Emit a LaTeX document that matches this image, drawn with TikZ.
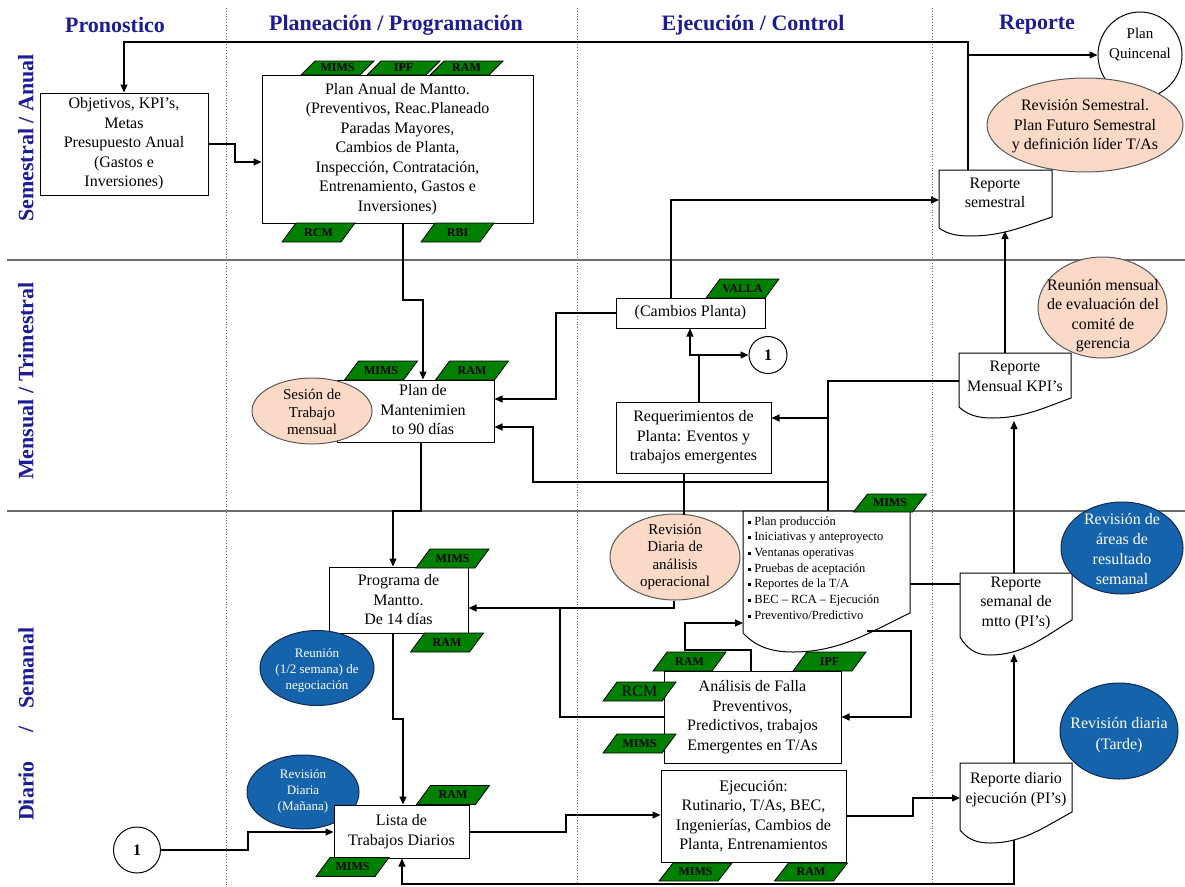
\documentclass[tikz,border=0pt]{standalone}
\usepackage{fontspec}
\setmainfont{Liberation Serif}
\usetikzlibrary{arrows.meta,calc,shapes.geometric}
\definecolor{navy}{RGB}{28,28,150}
\definecolor{tagg}{RGB}{0,128,0}
\definecolor{pinkf}{RGB}{250,217,198}
\definecolor{bluef}{RGB}{20,99,171}
\definecolor{blueb}{RGB}{20,40,80}
\definecolor{laneg}{RGB}{110,110,110}
\tikzset{
  hdr/.style={text=navy, font=\bfseries\fontsize{22}{26}\selectfont, inner sep=0},
  side/.style={hdr, rotate=90},
  box/.style={draw, fill=white, line width=1pt, inner sep=0, align=center, font=\fontsize{16}{19.5}\selectfont},
  txt/.style={inner sep=0, align=center, font=\fontsize{16}{19.5}\selectfont},
  wtxt/.style={txt, text=white},
  ell/.style={ellipse, draw, fill=white, line width=1pt, inner sep=0},
  pinkell/.style={ellipse, draw=black!65, fill=pinkf, line width=1pt, inner sep=0},
  blueell/.style={ellipse, draw=blueb, fill=bluef, line width=1pt, inner sep=0},
  tagshape/.style={fill=tagg, draw=black, line width=0.8pt},
  tagtext/.style={inner sep=0, font=\bfseries\fontsize{12}{12}\selectfont},
  docsty/.style={draw, fill=white, line width=1pt},
  conn/.style={line width=1.1pt},
  arr/.style={conn, -{Triangle[length=8pt,width=7pt]}},
  lane/.style={draw=laneg, line width=2pt},
  vdot/.style={draw=laneg, line width=0.8pt, dotted},
}
\newcommand{\gtag}[5]{%
  \filldraw[tagshape] (#2-36.5,#3+#4/2) -- (#2+22.5,#3+#4/2) -- (#2+36.5,#3-#4/2) -- (#2-22.5,#3-#4/2) -- cycle;
  \node[tagtext] (#1) at (#2,#3) {#5};}
\newcommand{\docshape}[8]{%
  \filldraw[docsty] (#2,#4) -- (#3,#4) -- (#3,#8)
    .. controls ({#3-0.35*(#3-#6)},{#8+0.5*(#7-#8)}) and ({#6+0.4*(#3-#6)},#7) .. (#6,#7)
    .. controls ({#6-0.45*(#6-#2)},#7) and ({#2+0.25*(#6-#2)},{#7-0.3*(#7-#5)}) .. (#2,#5) -- cycle;
  \node[inner sep=0, outer sep=0, minimum width={#3-#2}, minimum height={#8-#4}] (#1) at ({(#2+#3)/2},{(#4+#8)/2}) {};}
\begin{document}
\begin{tikzpicture}[x=1pt,y=-1pt]
\useasboundingbox (0,0) rectangle (1185,886);
\fill[white] (0,0) rectangle (1185,886);
% lanes
\draw[lane] (7,260) -- (1185,260);
\draw[lane] (7,511) -- (1185,511);
\foreach \x in {226,577,932} \draw[vdot] (\x,8) -- (\x,886);
% headers
\node[hdr] (h1) at (115,25) {Pronostico};
\node[hdr] (h2) at (396,25) {Planeación / Programación};
\node[hdr] (h3) at (753,25) {Ejecución / Control};
\node[hdr] (h4) at (1037,25) {Reporte};
\node[side] (s1) at (26,138) {Semestral / Anual};
\node[side] (s2) at (26,381) {Mensual / Trimestral};
\node[side] (s3a) at (26,668) {Semanal};
\node[side] (s3b) at (26,729) {/};
\node[side] (s3c) at (26,791) {Diario};

% Semestral / Anual
\node[box, minimum width=168, minimum height=102] (obj) at (124,144) {Objetivos, KPI’s,\\Metas\\Presupuesto Anual\\(Gastos e\\Inversiones)};
\node[box, minimum width=271, minimum height=148] (pa) at (397.5,149) {Plan Anual de Mantto.\\(Preventivos, Reac.Planeado\\Paradas Mayores,\\Cambios de Planta,\\Inspección, Contratación,\\Entrenamiento, Gastos e\\Inversiones)};
\gtag{tpa1}{337.5}{68}{14}{MIMS}
\gtag{tpa2}{403.5}{68}{14}{IPF}
\gtag{tpa3}{466.5}{68}{14}{RAM}
\gtag{tpa4}{318.5}{232.5}{19}{RCM}
\gtag{tpa5}{457.5}{232.5}{19}{RBI}
\node[ell, minimum width=84, minimum height=86] (pq) at (1140,55) {};
\node[txt, font=\fontsize{15}{20}\selectfont] (pqt) at (1140,45) {Plan\\Quincenal};
\node[pinkell, minimum width=196, minimum height=94] (rse) at (1085,125) {};
\node[txt] (rset) at (1085,126.5) {Revisión Semestral.\\Plan Futuro Semestral\\y definición líder T/As};
\docshape{rsem}{939}{1052}{170}{228}{970}{236}{217}
\node[txt] (rsemt) at (995,193) {Reporte\\semestral};

% Mensual / Trimestral
\node[box, minimum width=157, minimum height=62] (pm) at (415.5,411) {};
\gtag{tpm1}{381}{370.5}{19}{MIMS}
\gtag{tpm2}{472}{370.5}{19}{RAM}
\node[pinkell, minimum width=120, minimum height=66] (ses) at (312,411) {};
\node[txt, font=\fontsize{15}{17.5}\selectfont] (sest) at (312,412) {Sesión de\\Trabajo\\mensual};
\node[txt] (pmt) at (423,410) {Plan de\\Mantenimien\\to 90 días};
\node[box, minimum width=149, minimum height=30] (cp) at (690.5,313) {(Cambios Planta)};
\gtag{tcp}{742.5}{288.5}{19}{VALLA}
\node[box, minimum width=155, minimum height=71] (rq) at (693.5,437.5) {Requerimientos de\\Planta: Eventos y\\trabajos emergentes};
\node[ell, minimum width=38, minimum height=37] (c1) at (768,355) {};
\node[txt, font=\bfseries\fontsize{16}{16}\selectfont] (c1t) at (768,355) {1};
\node[pinkell, minimum width=129, minimum height=101] (rme) at (1102.5,307.5) {};
\node[txt] (rmet) at (1103,315.5) {Reunión mensual\\de evaluación del\\comité de\\gerencia};
\docshape{rmen}{959}{1071}{353}{407}{992}{418}{398}
\node[txt] (rment) at (1015,376.5) {Reporte\\Mensual KPI’s};

% Diario / Semanal
\node[box, minimum width=139, minimum height=66] (pg) at (398.5,600) {Programa de\\Mantto.\\De 14 días};
\gtag{tpg1}{452.5}{558.5}{19}{MIMS}
\gtag{tpg2}{447}{642.5}{19}{RAM}
\node[blueell, minimum width=114, minimum height=75] (rneg) at (317,668) {};
\node[wtxt, font=\fontsize{13}{16}\selectfont] (rnegt) at (317,670) {Reunión\\(1/2 semana) de\\negociación};
\node[blueell, minimum width=112, minimum height=74] (rdm) at (303,792) {};
\node[wtxt, font=\fontsize{13}{16}\selectfont] (rdmt) at (303,791) {Revisión\\Diaria\\(Mañana)};
\node[box, minimum width=135, minimum height=53] (li) at (401.5,831.5) {Lista de\\Trabajos Diarios};
\gtag{tli1}{453}{795}{19}{RAM}
\gtag{tli2}{352.5}{867}{19}{MIMS}
\node[ell, minimum width=47, minimum height=46] (c2) at (137,850) {};
\node[txt, font=\bfseries\fontsize{16}{16}\selectfont] (c2t) at (137,850) {1};

\node[pinkell, minimum width=130, minimum height=86] (rda) at (675,557) {};
\node[txt, font=\fontsize{15}{17.4}\selectfont] (rdat) at (675,557) {Revisión\\Diaria de\\análisis\\operacional};
\docshape{bd}{743}{910}{511}{633}{793}{652}{613}
\gtag{tbd}{890}{503}{18}{MIMS}
\node[inner sep=0, anchor=west, align=left, font=\fontsize{12.5}{15.7}\selectfont] (bdt) at (748,568) {%
\rule[1.5pt]{3pt}{3pt} Plan producción\\
\rule[1.5pt]{3pt}{3pt} Iniciativas y anteproyecto\\
\rule[1.5pt]{3pt}{3pt} Ventanas operativas\\
\rule[1.5pt]{3pt}{3pt} Pruebas de aceptación\\
\rule[1.5pt]{3pt}{3pt} Reportes de la T/A\\
\rule[1.5pt]{3pt}{3pt} BEC – RCA – Ejecución\\
\rule[1.5pt]{3pt}{3pt} Preventivo/Predictivo};
\node[box, minimum width=177, minimum height=92] (an) at (752.5,717) {Análisis de Falla\\Preventivos,\\Predictivos, trabajos\\Emergentes en T/As};
\gtag{tan1}{689.5}{661.5}{19}{RAM}
\gtag{tan2}{829.5}{661.5}{19}{IPF}
\gtag{tan3}{639.5}{691.5}{19}{{\mdseries\fontsize{16}{16}\selectfont RCM}}
\gtag{tan4}{639.5}{743.5}{19}{MIMS}
\node[box, minimum width=185, minimum height=92] (ej) at (753.5,816) {Ejecución:\\Rutinario, T/As, BEC,\\Ingenierías, Cambios de\\Planta, Entrenamientos};
\gtag{tej1}{695.5}{872}{18}{MIMS}
\gtag{tej2}{811}{872}{18}{RAM}
\docshape{rsm}{960}{1072}{573}{637}{990}{655}{620}
\node[txt] (rsmt) at (1016,603) {Reporte\\semanal de\\mtto (PI’s)};
\docshape{rdi}{960}{1072}{763}{830}{990}{843}{812}
\node[txt] (rdit) at (1016,789.5) {Reporte diario\\ejecución (PI’s)};
\node[blueell, minimum width=122, minimum height=92] (rar) at (1122,548) {};
\node[wtxt, font=\fontsize{16}{20}\selectfont] (rart) at (1122,549) {Revisión de\\áreas de\\resultado\\semanal};
\node[blueell, minimum width=118, minimum height=96] (rta) at (1119,731) {};
\node[wtxt, font=\fontsize{16}{21}\selectfont] (rtat) at (1119,735) {Revisión diaria\\(Tarde)};

% connectors
\coordinate (k1) at (968,42);
\coordinate (k2) at (124,42);
\coordinate (k3) at (968,55);
\draw[arr] (rsem.north -| k1) -- (k1) -- (k2) -- (obj.north -| k2);
\draw[arr] (k3) -- (pq.west |- k3);
\coordinate (k4) at (235,162);
\draw[arr] (obj.east) -| (k4) -- (pa.west |- k4);
\coordinate (k5) at (403,300);
\coordinate (k6) at (423,300);
\draw[arr] (pa.south -| k5) -- (k5) -- (k6) -- (pm.north -| k6);
\coordinate (k7) at (556,399);
\draw[arr] (cp.west) -| (k7) -- (pm.east |- k7);
\coordinate (k8) at (671,200);
\draw[arr] (cp.north -| k8) -- (k8) -- (rsem.west |- k8);
\coordinate (k9) at (699,355);
\coordinate (k10) at (690,355);
\draw[conn] (rq.north -| k9) -- (k9);
\draw[arr] (k9) -- (k10) -- (cp.south -| k10);
\draw[arr] (k9) -- (c1.west);
\coordinate (m1) at (828,381);
\coordinate (m2) at (828,418);
\coordinate (m3) at (828,482);
\coordinate (m4) at (533,482);
\coordinate (m5) at (533,427);
\draw[conn] (rmen.west |- m1) -- (m1) -- (bd.north -| m1);
\draw[arr] (m2) -- (rq.east |- m2);
\draw[arr] (m3) -- (m4) -- (m5) -- (pm.east |- m5);
\coordinate (m6) at (684,515);
\draw[conn] (rq.south -| m6) -- (m6);
\coordinate (p1) at (674,608);
\draw[arr] (rda.south -| p1) -- (p1) -- (pg.east |- p1);
\coordinate (p2) at (560,717);
\draw[conn] (an.west |- p2) -- (p2) -- (p2 |- p1);
\coordinate (q1) at (751,650);
\coordinate (q2) at (685,650);
\coordinate (q3) at (685,623);
\draw[arr] (an.north -| q1) -- (q1) -- (q2) -- (q3) -- (bd.west |- q3);
\coordinate (r1) at (867,631);
\coordinate (r2) at (911,631);
\coordinate (r3) at (911,717);
\draw[arr] (r1) -- (r2) -- (r3) -- (an.east |- r3);
\coordinate (s1) at (910,584);
\draw[conn] (s1) -- (rsm.west |- s1);
\coordinate (u1) at (1014,421);
\draw[arr] (rsm.north -| u1) -- (u1);
\coordinate (u2) at (1005,231);
\draw[arr] (rmen.north -| u2) -- (u2);
\coordinate (u3) at (1014,654);
\draw[arr] (rdi.north -| u3) -- (u3);
\coordinate (v1) at (1014,840);
\coordinate (v2) at (1014,884);
\coordinate (v3) at (402,884);
\draw[arr] (v1) -- (v2) -- (v3) -- (li.south -| v3);
\coordinate (w1) at (393,719);
\coordinate (w2) at (403,719);
\draw[arr] (pg.south -| w1) -- (w1) -- (w2) -- (li.north -| w2);
\coordinate (x1) at (421,511);
\coordinate (x2) at (393,511);
\draw[arr] (pm.south -| x1) -- (x1) -- (x2) -- (pg.north -| x2);
\coordinate (y1) at (248,850);
\coordinate (y2) at (248,832);
\draw[arr] (c2.east) -- (y1) -- (y2) -- (li.west |- y2);
\coordinate (z1) at (566,832);
\coordinate (z2) at (566,815);
\draw[arr] (li.east |- z1) -- (z1) -- (z2) -- (ej.west |- z2);
\coordinate (z3) at (913,816);
\coordinate (z4) at (913,798);
\draw[arr] (ej.east |- z3) -- (z3) -- (z4) -- (rdi.west |- z4);
\end{tikzpicture}
\end{document}
